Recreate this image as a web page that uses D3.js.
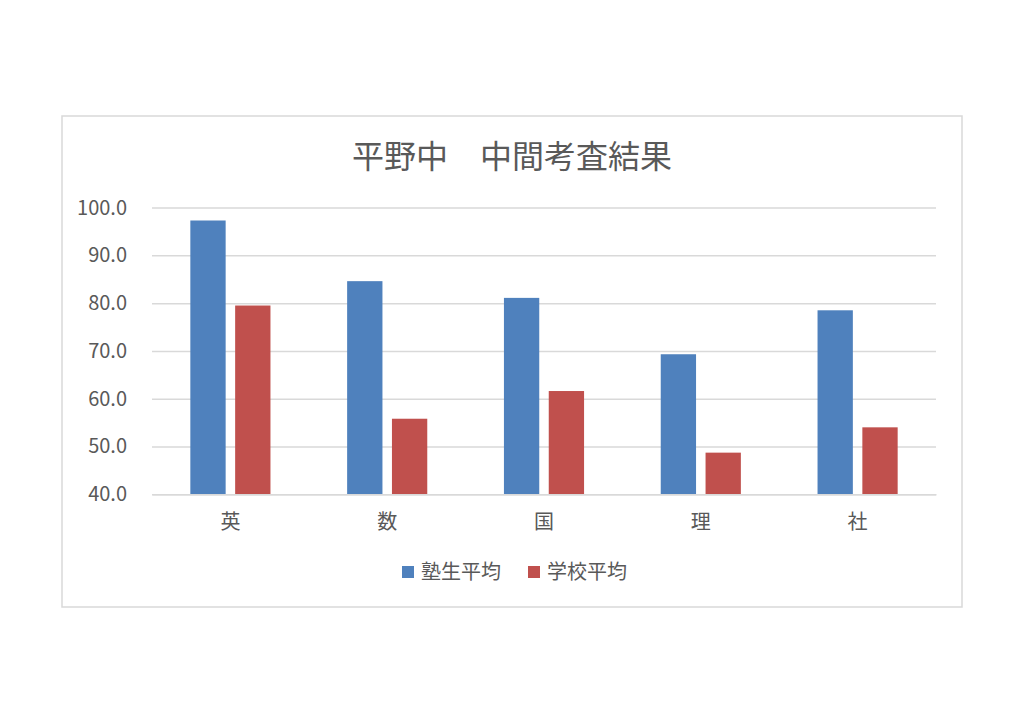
<!DOCTYPE html>
<html>
<head>
<meta charset="utf-8">
<script src="https://cdn.jsdelivr.net/npm/d3@7/dist/d3.min.js"></script>
<style>
  html, body { margin: 0; padding: 0; background: #fff; }
  svg text { font-family: "Noto Sans CJK JP", "Noto Sans", sans-serif; fill: #595959; }
</style>
</head>
<body>
<div id="chart"></div>
<script>
(function(d3) {
  'use strict';

  var title = '平野中\u3000中間考査結果';
  var categories = ['英', '数', '国', '理', '社'];
  var seriesNames = ['塾生平均', '学校平均'];
  var jukuValues = [97.3, 84.6, 81.1, 69.3, 78.5];
  var schoolValues = [79.5, 55.8, 61.6, 48.7, 54.0];
  var yTicks = [40, 50, 60, 70, 80, 90, 100];
  var seriesColors = ['#4f81bd', '#c0504d'];

  var width = 1024, height = 723;
  var box = { left: 62, top: 116, right: 962, bottom: 607 };
  var plot = { left: 152, right: 936, top: 207.6, bottom: 494.2 };

  var svg = d3.select('#chart').append('svg')
    .attr('width', width)
    .attr('height', height);

  // chart area frame
  svg.append('rect')
    .attr('x', box.left)
    .attr('y', box.top)
    .attr('width', box.right - box.left)
    .attr('height', box.bottom - box.top)
    .attr('fill', '#fff')
    .attr('stroke', '#d9d9d9')
    .attr('stroke-width', 1.5);

  svg.append('text')
    .attr('x', (box.left + box.right) / 2)
    .attr('y', 168)
    .attr('text-anchor', 'middle')
    .style('font-size', '32px')
    .text(title);

  var y = d3.scaleLinear().domain([40, 100]).range([plot.bottom, plot.top]);

  var x0 = d3.scaleBand()
    .domain(categories)
    .range([plot.left, plot.right])
    .paddingInner(0.489)
    .paddingOuter(0.2445);

  var x1 = d3.scaleBand()
    .domain(seriesNames)
    .range([0, x0.bandwidth()])
    .paddingInner(0.212);

  // gridlines + value labels
  var yAxis = d3.axisLeft(y)
    .tickValues(yTicks)
    .tickSize(-(plot.right - plot.left))
    .tickPadding(25)
    .tickFormat(d3.format('.1f'));

  var gy = svg.append('g')
    .attr('transform', 'translate(' + plot.left + ',0)')
    .call(yAxis);
  gy.select('.domain').remove();
  gy.selectAll('.tick line').attr('stroke', '#d9d9d9').attr('stroke-width', 1.5);
  gy.selectAll('.tick text')
    .attr('fill', '#595959')
    .style('font-size', '20px');

  var rows = categories.map(function(c, i) {
    return { cat: c, values: [jukuValues[i], schoolValues[i]] };
  });

  var groups = svg.selectAll('g.cat').data(rows).enter().append('g')
    .attr('class', 'cat')
    .attr('transform', function(d) { return 'translate(' + x0(d.cat) + ',0)'; });

  groups.selectAll('rect')
    .data(function(d) {
      return d.values.map(function(v, j) { return { name: seriesNames[j], value: v, j: j }; });
    })
    .enter().append('rect')
    .attr('x', function(d) { return x1(d.name); })
    .attr('y', function(d) { return y(d.value); })
    .attr('width', x1.bandwidth())
    .attr('height', function(d) { return y(40) - y(d.value); })
    .attr('fill', function(d) { return seriesColors[d.j]; });

  // category labels
  var gx = svg.append('g')
    .attr('transform', 'translate(0,' + plot.bottom + ')')
    .call(d3.axisBottom(x0).tickSize(0).tickPadding(21));
  gx.select('.domain').attr('stroke', '#d9d9d9').attr('stroke-width', 1.5);
  gx.selectAll('.tick text')
    .attr('fill', '#595959')
    .style('font-size', '20px');

  // legend
  var legendX = [402, 528];
  var legend = svg.selectAll('g.legend').data(seriesNames).enter().append('g')
    .attr('class', 'legend')
    .attr('transform', function(d, i) { return 'translate(' + legendX[i] + ',566)'; });

  legend.append('rect')
    .attr('width', 12)
    .attr('height', 12)
    .attr('fill', function(d, i) { return seriesColors[i]; });

  legend.append('text')
    .attr('x', 19)
    .attr('y', 13)
    .style('font-size', '20px')
    .text(function(d) { return d; });
}(d3));
</script>
</body>
</html>
